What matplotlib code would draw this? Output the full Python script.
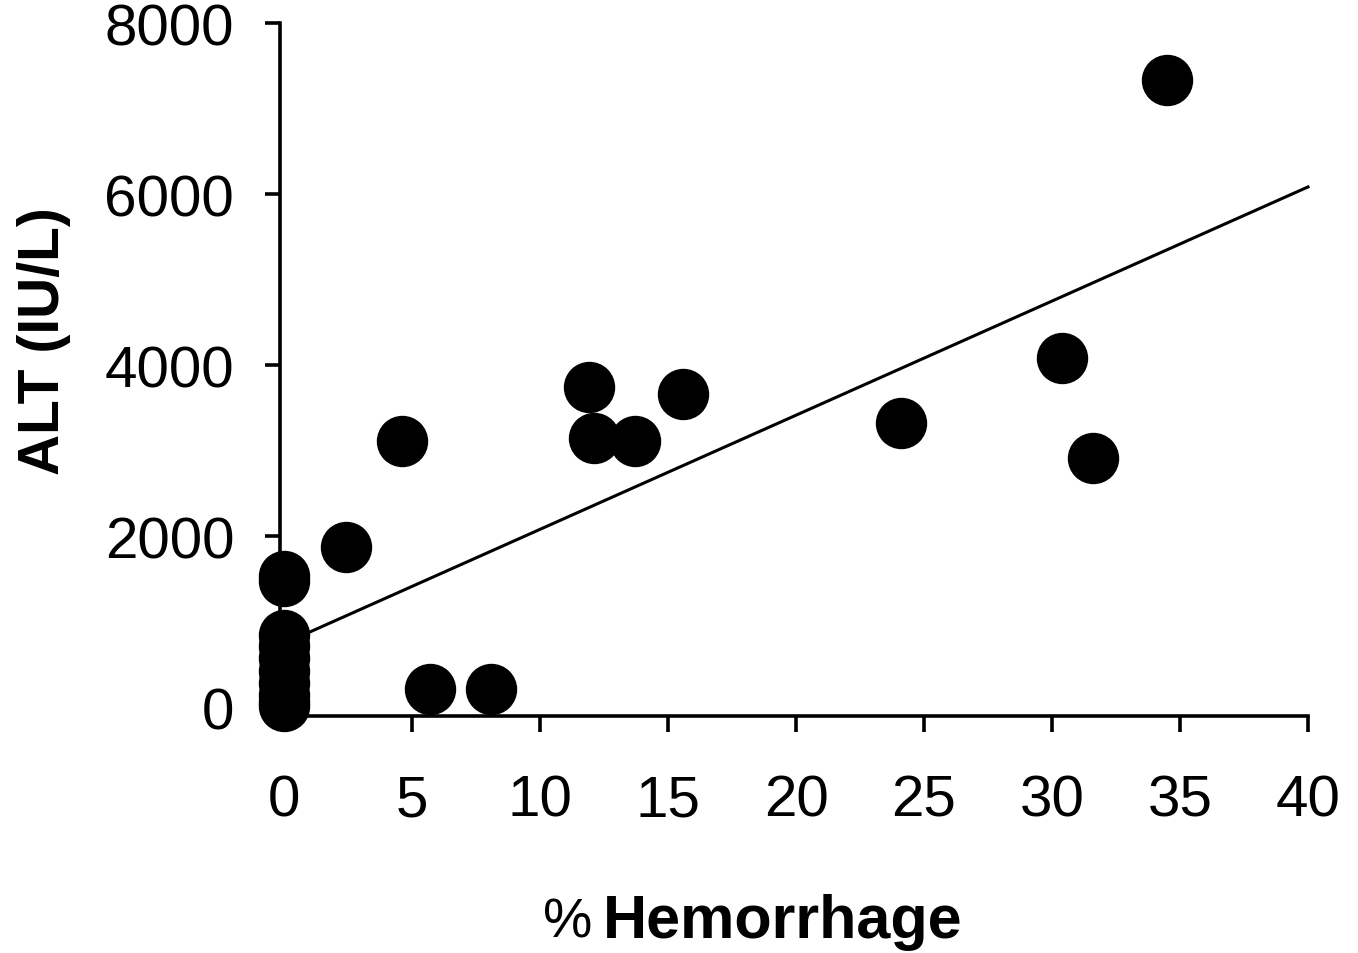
import matplotlib
matplotlib.use("Agg")
import matplotlib.pyplot as plt
import numpy as np

# Data
hemorrhage = [34.5, 30.4, 31.6, 24.1, 15.6, 11.9, 12.1, 13.7, 4.6, 2.4, 5.7, 8.1,
              0, 0, 0, 0, 0, 0, 0, 0, 0, 0]
alt = [7330, 4080, 2910, 3330, 3660, 3750, 3150, 3110, 3110, 1880, 220, 220,
       1540, 1480, 850, 720, 580, 430, 290, 150, 60, 20]

fit_slope = 133.4
fit_intercept = 748
fit_x = [0, 40]

x_ticks = [0, 5, 10, 15, 20, 25, 30, 35, 40]
y_ticks = [0, 2000, 4000, 6000, 8000]

plt.rcParams['font.family'] = ['Liberation Sans', 'DejaVu Sans']

W, H = 1358, 954
fig = plt.figure(figsize=(W / 100, H / 100), dpi=100)
ax = fig.add_axes([280 / W, 1 - 717 / H, (1308 - 280) / W, (717 - 24) / H])

ax.plot(hemorrhage, alt, 'o', color='black', markersize=36, zorder=3, clip_on=False)
fx = np.array(fit_x, dtype=float)
ax.plot(fx, fit_intercept + fit_slope * fx, color='black', lw=2.2, zorder=2, clip_on=False)

ax.set_xlim(-0.16, 40)
ax.set_ylim(-100, 8000)
ax.set_xticks(x_ticks)
ax.set_yticks(y_ticks)
ax.set_xticklabels([str(v) for v in x_ticks])
ax.set_yticklabels([str(v) for v in y_ticks])

for s in ['top', 'right']:
    ax.spines[s].set_visible(False)
for s in ['left', 'bottom']:
    ax.spines[s].set_linewidth(2.6)
    ax.spines[s].set_color('black')

ax.tick_params(axis='x', direction='out', length=11.5, width=2.6, pad=30, labelsize=42)
ax.tick_params(axis='y', direction='out', length=11, width=2.6, pad=22, labelsize=42)

fig.text(592 / W, 1 - 938 / H, '%', ha='right', va='baseline', fontsize=40)
fig.text(603 / W, 1 - 938 / H, 'Hemorrhage', ha='left', va='baseline',
         fontsize=44, fontweight='bold')
fig.text(44 / W, 1 - 341 / H, 'ALT (IU/L)', ha='center', va='center', rotation=90,
         fontsize=41, fontweight='bold')

fig.savefig('out.png', dpi=100, facecolor='white')
